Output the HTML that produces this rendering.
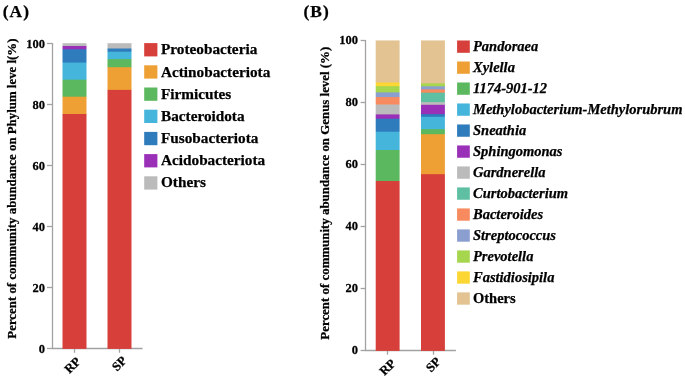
<!DOCTYPE html>
<html><head><meta charset="utf-8"><style>
html,body{margin:0;padding:0;background:#fff;}
body{width:685px;height:379px;position:relative;overflow:hidden;font-family:"Liberation Serif",serif;font-weight:bold;color:#000;}
svg{position:absolute;left:0;top:0;}
.t{position:absolute;white-space:nowrap;line-height:1;filter:grayscale(1);-webkit-text-stroke:0.25px #000;}
</style></head><body>
<svg width="685" height="379" viewBox="0 0 685 379">
<line x1="52.50" y1="42.90" x2="52.50" y2="349.10" stroke="#A2A2A2" stroke-width="1.3"/>
<line x1="51.90" y1="348.50" x2="142.60" y2="348.50" stroke="#A2A2A2" stroke-width="1.3"/>
<line x1="47.00" y1="43.50" x2="52.50" y2="43.50" stroke="#A2A2A2" stroke-width="1.3"/>
<line x1="47.00" y1="104.50" x2="52.50" y2="104.50" stroke="#A2A2A2" stroke-width="1.3"/>
<line x1="47.00" y1="165.50" x2="52.50" y2="165.50" stroke="#A2A2A2" stroke-width="1.3"/>
<line x1="47.00" y1="226.50" x2="52.50" y2="226.50" stroke="#A2A2A2" stroke-width="1.3"/>
<line x1="47.00" y1="287.50" x2="52.50" y2="287.50" stroke="#A2A2A2" stroke-width="1.3"/>
<line x1="47.00" y1="348.50" x2="52.50" y2="348.50" stroke="#A2A2A2" stroke-width="1.3"/>
<line x1="74.50" y1="348.50" x2="74.50" y2="352.80" stroke="#A2A2A2" stroke-width="1.3"/>
<line x1="119.50" y1="348.50" x2="119.50" y2="352.80" stroke="#A2A2A2" stroke-width="1.3"/>
<line x1="365.50" y1="39.90" x2="365.50" y2="351.10" stroke="#A2A2A2" stroke-width="1.3"/>
<line x1="364.90" y1="350.50" x2="455.90" y2="350.50" stroke="#A2A2A2" stroke-width="1.3"/>
<line x1="360.60" y1="40.50" x2="365.50" y2="40.50" stroke="#A2A2A2" stroke-width="1.3"/>
<line x1="360.60" y1="102.50" x2="365.50" y2="102.50" stroke="#A2A2A2" stroke-width="1.3"/>
<line x1="360.60" y1="164.50" x2="365.50" y2="164.50" stroke="#A2A2A2" stroke-width="1.3"/>
<line x1="360.60" y1="226.50" x2="365.50" y2="226.50" stroke="#A2A2A2" stroke-width="1.3"/>
<line x1="360.60" y1="288.50" x2="365.50" y2="288.50" stroke="#A2A2A2" stroke-width="1.3"/>
<line x1="360.60" y1="350.50" x2="365.50" y2="350.50" stroke="#A2A2A2" stroke-width="1.3"/>
<line x1="387.50" y1="350.50" x2="387.50" y2="354.70" stroke="#A2A2A2" stroke-width="1.3"/>
<line x1="433.50" y1="350.50" x2="433.50" y2="354.70" stroke="#A2A2A2" stroke-width="1.3"/>
<rect x="144.20" y="43.10" width="13.20" height="13.30" fill="#D63F3A"/>
<rect x="144.20" y="65.30" width="13.20" height="13.30" fill="#EEA035"/>
<rect x="144.20" y="87.50" width="13.20" height="13.30" fill="#5CB85E"/>
<rect x="144.20" y="109.70" width="13.20" height="13.30" fill="#45B5DB"/>
<rect x="144.20" y="131.90" width="13.20" height="13.30" fill="#2F7CBC"/>
<rect x="144.20" y="154.10" width="13.20" height="13.30" fill="#9A30B8"/>
<rect x="144.20" y="176.30" width="13.20" height="13.30" fill="#BBBBBB"/>
<rect x="457.10" y="40.50" width="12.70" height="12.30" fill="#D63F3A"/>
<rect x="457.10" y="61.49" width="12.70" height="12.30" fill="#EEA035"/>
<rect x="457.10" y="82.48" width="12.70" height="12.30" fill="#5CB85E"/>
<rect x="457.10" y="103.47" width="12.70" height="12.30" fill="#45B5DB"/>
<rect x="457.10" y="124.46" width="12.70" height="12.30" fill="#2F7CBC"/>
<rect x="457.10" y="145.45" width="12.70" height="12.30" fill="#9A30B8"/>
<rect x="457.10" y="166.44" width="12.70" height="12.30" fill="#BBBBBB"/>
<rect x="457.10" y="187.43" width="12.70" height="12.30" fill="#5EBFA3"/>
<rect x="457.10" y="208.42" width="12.70" height="12.30" fill="#F78A5E"/>
<rect x="457.10" y="229.41" width="12.70" height="12.30" fill="#8A9ECF"/>
<rect x="457.10" y="250.40" width="12.70" height="12.30" fill="#A5D64E"/>
<rect x="457.10" y="271.39" width="12.70" height="12.30" fill="#FCD734"/>
<rect x="457.10" y="292.38" width="12.70" height="12.30" fill="#E2C391"/>
<mask id="c1" maskUnits="userSpaceOnUse" x="0" y="0" width="685" height="379"><rect x="62.50" y="43.10" width="24.00" height="305.80" fill="#fff"/></mask><g mask="url(#c1)">
<rect x="61" y="43.10" width="27" height="306.80" fill="#BBBBBB"/>
<rect x="61" y="46.00" width="27" height="303.90" fill="#9A30B8"/>
<rect x="61" y="49.30" width="27" height="300.60" fill="#2F7CBC"/>
<rect x="61" y="62.60" width="27" height="287.30" fill="#45B5DB"/>
<rect x="61" y="79.70" width="27" height="270.20" fill="#5CB85E"/>
<rect x="61" y="96.70" width="27" height="253.20" fill="#EEA035"/>
<rect x="61" y="114.00" width="27" height="235.90" fill="#D63F3A"/>
</g>
<mask id="c2" maskUnits="userSpaceOnUse" x="0" y="0" width="685" height="379"><rect x="107.50" y="43.10" width="24.00" height="305.80" fill="#fff"/></mask><g mask="url(#c2)">
<rect x="106" y="43.10" width="27" height="306.80" fill="#BBBBBB"/>
<rect x="106" y="48.50" width="27" height="301.40" fill="#2F7CBC"/>
<rect x="106" y="51.70" width="27" height="298.20" fill="#45B5DB"/>
<rect x="106" y="59.10" width="27" height="290.80" fill="#5CB85E"/>
<rect x="106" y="67.20" width="27" height="282.70" fill="#EEA035"/>
<rect x="106" y="89.90" width="27" height="260.00" fill="#D63F3A"/>
</g>
<mask id="c3" maskUnits="userSpaceOnUse" x="0" y="0" width="685" height="379"><rect x="375.70" y="40.25" width="23.90" height="310.65" fill="#fff"/></mask><g mask="url(#c3)">
<rect x="374" y="40.25" width="27" height="311.65" fill="#E2C391"/>
<rect x="374" y="82.50" width="27" height="269.40" fill="#FCD734"/>
<rect x="374" y="86.20" width="27" height="265.70" fill="#A5D64E"/>
<rect x="374" y="92.40" width="27" height="259.50" fill="#8A9ECF"/>
<rect x="374" y="97.10" width="27" height="254.80" fill="#F78A5E"/>
<rect x="374" y="104.50" width="27" height="247.40" fill="#BBBBBB"/>
<rect x="374" y="114.40" width="27" height="237.50" fill="#9A30B8"/>
<rect x="374" y="118.70" width="27" height="233.20" fill="#2F7CBC"/>
<rect x="374" y="131.70" width="27" height="220.20" fill="#45B5DB"/>
<rect x="374" y="150.00" width="27" height="201.90" fill="#5CB85E"/>
<rect x="374" y="181.00" width="27" height="170.90" fill="#D63F3A"/>
</g>
<mask id="c4" maskUnits="userSpaceOnUse" x="0" y="0" width="685" height="379"><rect x="421.00" y="40.25" width="23.90" height="310.65" fill="#fff"/></mask><g mask="url(#c4)">
<rect x="420" y="40.25" width="26" height="311.65" fill="#E2C391"/>
<rect x="420" y="83.40" width="26" height="268.50" fill="#A5D64E"/>
<rect x="420" y="86.30" width="26" height="265.60" fill="#8A9ECF"/>
<rect x="420" y="89.40" width="26" height="262.50" fill="#F78A5E"/>
<rect x="420" y="92.70" width="26" height="259.20" fill="#5EBFA3"/>
<rect x="420" y="102.10" width="26" height="249.80" fill="#BBBBBB"/>
<rect x="420" y="104.80" width="26" height="247.10" fill="#9A30B8"/>
<rect x="420" y="114.10" width="26" height="237.80" fill="#2F7CBC"/>
<rect x="420" y="116.80" width="26" height="235.10" fill="#45B5DB"/>
<rect x="420" y="129.20" width="26" height="222.70" fill="#5CB85E"/>
<rect x="420" y="134.20" width="26" height="217.70" fill="#EEA035"/>
<rect x="420" y="174.20" width="26" height="177.70" fill="#D63F3A"/>
</g>
</svg>
<span class="t" style="left:161.00px;top:41.44px;font-size:15.25px;">Proteobacteria</span>
<span class="t" style="left:161.00px;top:63.54px;font-size:15.25px;">Actinobacteriota</span>
<span class="t" style="left:161.00px;top:85.64px;font-size:15.25px;">Firmicutes</span>
<span class="t" style="left:161.00px;top:107.74px;font-size:15.25px;">Bacteroidota</span>
<span class="t" style="left:161.00px;top:129.84px;font-size:15.25px;">Fusobacteriota</span>
<span class="t" style="left:161.00px;top:151.94px;font-size:15.25px;">Acidobacteriota</span>
<span class="t" style="left:161.00px;top:174.04px;font-size:15.25px;">Others</span>
<span class="t" style="left:473.00px;top:39.17px;font-size:14.5px;font-style:italic;">Pandoraea</span>
<span class="t" style="left:473.00px;top:60.17px;font-size:14.5px;font-style:italic;">Xylella</span>
<span class="t" style="left:473.00px;top:81.17px;font-size:14.5px;font-style:italic;">1174-901-12</span>
<span class="t" style="left:473.00px;top:102.17px;font-size:14.5px;font-style:italic;">Methylobacterium-Methylorubrum</span>
<span class="t" style="left:473.00px;top:123.16px;font-size:14.5px;font-style:italic;">Sneathia</span>
<span class="t" style="left:473.00px;top:144.16px;font-size:14.5px;font-style:italic;">Sphingomonas</span>
<span class="t" style="left:473.00px;top:165.16px;font-size:14.5px;font-style:italic;">Gardnerella</span>
<span class="t" style="left:473.00px;top:186.16px;font-size:14.5px;font-style:italic;">Curtobacterium</span>
<span class="t" style="left:473.00px;top:207.16px;font-size:14.5px;font-style:italic;">Bacteroides</span>
<span class="t" style="left:473.00px;top:228.16px;font-size:14.5px;font-style:italic;">Streptococcus</span>
<span class="t" style="left:473.00px;top:249.16px;font-size:14.5px;font-style:italic;">Prevotella</span>
<span class="t" style="left:473.00px;top:270.16px;font-size:14.5px;font-style:italic;">Fastidiosipila</span>
<span class="t" style="left:473.00px;top:291.16px;font-size:14.5px;">Others</span>
<span class="t" style="right:640.10px;top:37.52px;font-size:12.5px;transform:scaleY(1.06);transform-origin:0 0.83em;">100</span>
<span class="t" style="right:327.00px;top:34.12px;font-size:12.5px;transform:scaleY(1.06);transform-origin:0 0.83em;">100</span>
<span class="t" style="right:640.10px;top:98.53px;font-size:12.5px;transform:scaleY(1.06);transform-origin:0 0.83em;">80</span>
<span class="t" style="right:327.00px;top:96.19px;font-size:12.5px;transform:scaleY(1.06);transform-origin:0 0.83em;">80</span>
<span class="t" style="right:640.10px;top:159.53px;font-size:12.5px;transform:scaleY(1.06);transform-origin:0 0.83em;">60</span>
<span class="t" style="right:327.00px;top:158.25px;font-size:12.5px;transform:scaleY(1.06);transform-origin:0 0.83em;">60</span>
<span class="t" style="right:640.10px;top:220.53px;font-size:12.5px;transform:scaleY(1.06);transform-origin:0 0.83em;">40</span>
<span class="t" style="right:327.00px;top:220.31px;font-size:12.5px;transform:scaleY(1.06);transform-origin:0 0.83em;">40</span>
<span class="t" style="right:640.10px;top:281.52px;font-size:12.5px;transform:scaleY(1.06);transform-origin:0 0.83em;">20</span>
<span class="t" style="right:327.00px;top:282.37px;font-size:12.5px;transform:scaleY(1.06);transform-origin:0 0.83em;">20</span>
<span class="t" style="right:640.10px;top:342.52px;font-size:12.5px;transform:scaleY(1.06);transform-origin:0 0.83em;">0</span>
<span class="t" style="right:327.00px;top:344.43px;font-size:12.5px;transform:scaleY(1.06);transform-origin:0 0.83em;">0</span>
<span class="t" style="left:2.70px;top:3.46px;font-size:17.4px;letter-spacing:1.05px;">(A)</span>
<span class="t" style="left:303.50px;top:3.46px;font-size:17.4px;letter-spacing:1.0px;">(B)</span>
<span class="t" style="left:17.20px;top:327.93px;font-size:12.86px;transform-origin:0 10.674px;transform:rotate(-90deg);">Percent of community abundance on Phylum leve l(%)</span>
<span class="t" style="left:330.40px;top:329.49px;font-size:12.9px;transform-origin:0 10.707px;transform:rotate(-90deg);">Percent of community abundance on Genus level (%)</span>
<span class="t" style="right:602.80px;top:352.16px;font-size:12.7px;transform-origin:100% 10.541px;transform:rotate(-45deg);">RP</span>
<span class="t" style="right:557.70px;top:350.76px;font-size:12.7px;transform-origin:100% 10.541px;transform:rotate(-45deg);">SP</span>
<span class="t" style="right:287.90px;top:354.26px;font-size:12.7px;transform-origin:100% 10.541px;transform:rotate(-45deg);">RP</span>
<span class="t" style="right:242.90px;top:352.46px;font-size:12.7px;transform-origin:100% 10.541px;transform:rotate(-45deg);">SP</span>
</body></html>
